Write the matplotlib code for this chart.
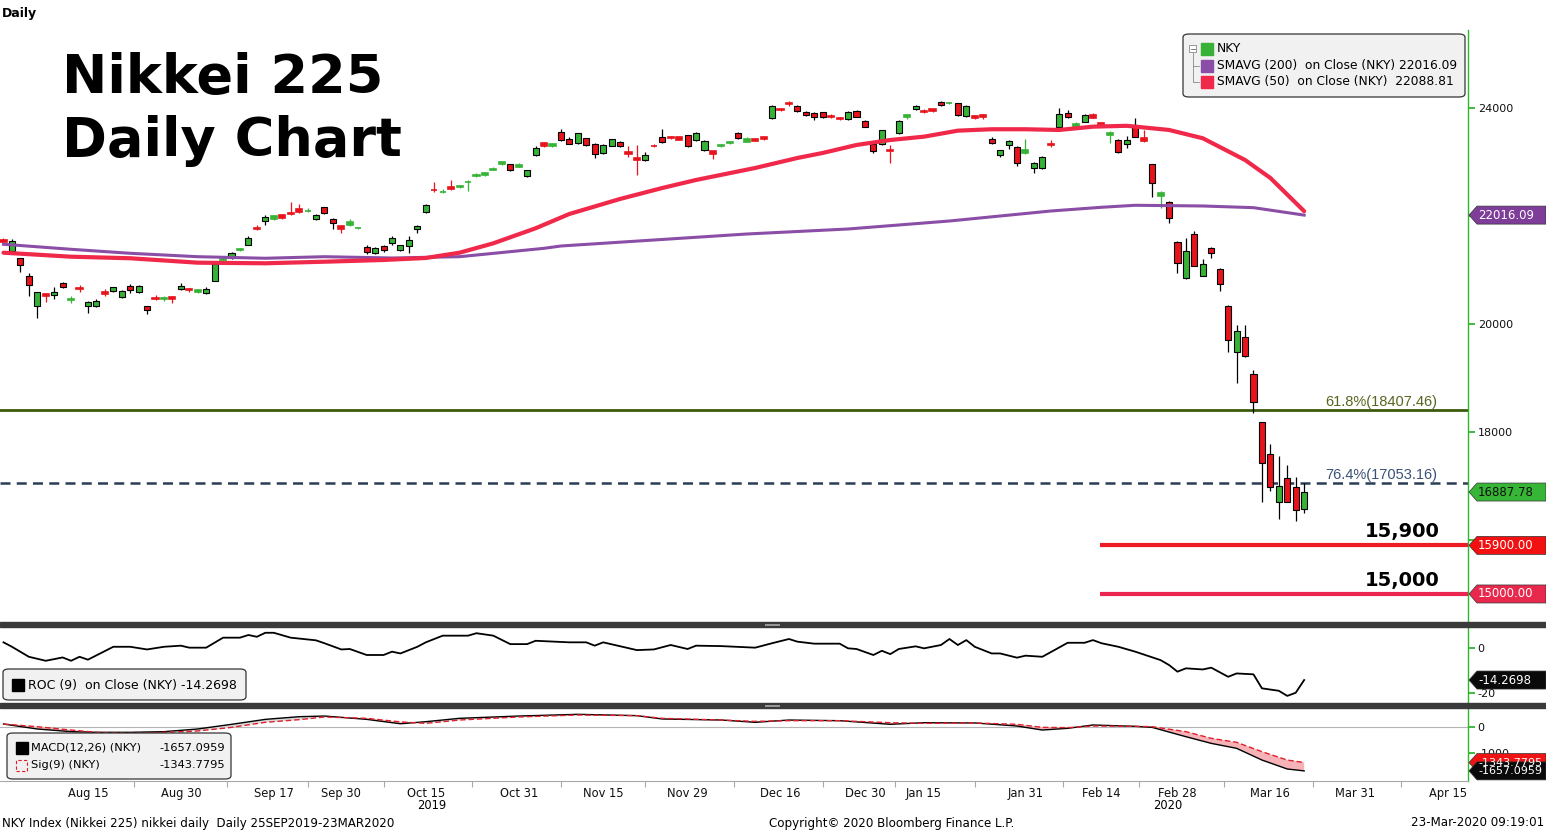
import numpy as np
import pandas as pd
import matplotlib
matplotlib.use('Agg')
import matplotlib.pyplot as plt
import matplotlib.transforms as mtransforms
from matplotlib.patches import Polygon, Rectangle, FancyBboxPatch
from matplotlib.lines import Line2D

# ---- data ----
holidays = ['2019-08-12', '2019-09-16', '2019-09-23', '2019-10-14', '2019-10-22',
            '2019-11-04', '2019-12-31', '2020-01-01', '2020-01-02', '2020-01-03',
            '2020-01-13', '2020-02-11', '2020-02-24', '2020-03-20']

opens = [21560, 21360, 21215, 20890, 20330, 20550, 20530, 20750, 20440, 20670,
         20325, 20325, 20600, 20610, 20500, 20700, 20590, 20330, 20480, 20470,
         20500, 20640, 20640, 20590, 20570, 20800, 21180, 21220, 21365, 21470,
         21770, 21900, 21945, 22010, 22060, 22130, 22090, 21950, 22160, 21945,
         21810, 21830, 21770, 21420, 21310, 21450, 21495, 21365, 21452, 21760,
         22070, 22480, 22440, 22540, 22530, 22620, 22737, 22755, 22860, 22957,
         22957, 22915, 22741, 23126, 23359, 23291, 23550, 23420, 23346, 23440,
         23333, 23161, 23304, 23365, 23180, 23080, 23033, 23300, 23457, 23460,
         23457, 23494, 23402, 23229, 23198, 23290, 23346, 23543, 23378, 23427,
         23465, 23809, 23975, 24099, 24037, 23926, 23901, 23920, 23860, 23821,
         23790, 23951, 23766, 23333, 23328, 23230, 23531, 23829, 23981, 23950,
         23981, 24111, 24090, 24087, 23852, 23852, 23877, 23433, 23124, 23309,
         23284, 23161, 22883, 22883, 23340, 23644, 23901, 23648, 23747, 23870,
         23729, 23494, 23407, 23327, 23685, 23438, 22957, 22378, 22255, 21514,
         20846, 21661, 20894, 21400, 21013, 20341, 19476, 19754, 19068, 18180,
         17587, 16709, 17142, 16987, 16568]
highs = [21600, 21570, 21230, 20940, 20600, 20570, 20680, 20780, 20510, 20720,
         20420, 20465, 20645, 20690, 20630, 20740, 20715, 20340, 20530, 20520,
         20510, 20755, 20660, 20635, 20690, 21155, 21240, 21330, 21410, 21620,
         21840, 22020, 22020, 22030, 22255, 22220, 22150, 22040, 22170, 21960,
         21820, 21950, 21790, 21455, 21420, 21460, 21630, 21470, 21620, 21830,
         22220, 22630, 22500, 22667, 22580, 22660, 22790, 22820, 22900, 23010,
         22970, 22990, 22860, 23300, 23370, 23350, 23610, 23470, 23540, 23450,
         23350, 23330, 23430, 23390, 23296, 23310, 23180, 23330, 23606, 23490,
         23470, 23500, 23550, 23400, 23210, 23340, 23390, 23560, 23460, 23440,
         23470, 24050, 24000, 24120, 24050, 23940, 23920, 23930, 23880, 23830,
         23940, 23960, 23780, 23340, 23600, 23310, 23770, 23890, 24060, 23980,
         23990, 24130, 24110, 24090, 24050, 23870, 23890, 23460, 23230, 23400,
         23300, 23420, 23000, 23110, 23410, 23995, 23960, 23740, 23880, 23900,
         23740, 23570, 23420, 23480, 23810, 23590, 22960, 22460, 22270, 21530,
         21587, 21720, 21200, 21420, 21040, 20350, 19976, 19976, 19150, 18180,
         17780, 17555, 17390, 17160, 17050]
lows = [21480, 21340, 20960, 20520, 20110, 20410, 20470, 20660, 20385, 20600,
        20200, 20310, 20510, 20600, 20490, 20580, 20580, 20180, 20440, 20425,
        20385, 20620, 20600, 20580, 20560, 20790, 21150, 21200, 21350, 21460,
        21740, 21840, 21930, 21940, 22020, 22060, 22070, 21920, 22030, 21755,
        21685, 21810, 21760, 21290, 21290, 21330, 21470, 21350, 21320, 21690,
        22060, 22450, 22420, 22480, 22520, 22470, 22730, 22745, 22850, 22950,
        22830, 22900, 22730, 23110, 23280, 23280, 23390, 23330, 23330, 23290,
        23080, 23140, 23290, 23270, 23098, 22750, 23020, 23270, 23360, 23420,
        23400, 23280, 23390, 23210, 23060, 23280, 23340, 23420, 23370, 23390,
        23410, 23800, 23940, 24040, 23920, 23850, 23770, 23810, 23820, 23780,
        23780, 23830, 23640, 23170, 23310, 22975, 23520, 23800, 23970, 23910,
        23930, 24040, 24080, 23860, 23840, 23790, 23800, 23330, 23100, 23235,
        22925, 23150, 22790, 22870, 23270, 23630, 23810, 23630, 23740, 23810,
        23680, 23360, 23170, 23250, 23460, 23370, 22360, 22140, 21865, 20940,
        20840, 21070, 20880, 21230, 20617, 19490, 18900, 19380, 18345, 16700,
        16910, 16380, 16700, 16358, 16496]
closes = [21521, 21540, 21087, 20720, 20585, 20516, 20593, 20684, 20455, 20655,
          20405, 20418, 20563, 20677, 20618, 20628, 20710, 20261, 20456, 20479,
          20460, 20704, 20620, 20625, 20649, 21110, 21199, 21318, 21392, 21600,
          21759, 21990, 22001, 21960, 22044, 22079, 22098, 22020, 22048, 21878,
          21756, 21885, 21778, 21341, 21410, 21375, 21588, 21456, 21551, 21820,
          22210, 22472, 22451, 22492, 22548, 22637, 22766, 22800, 22867, 22994,
          22846, 22939, 22852, 23254, 23303, 23340, 23402, 23335, 23531, 23319,
          23148, 23315, 23420, 23291, 23148, 23040, 23126, 23292, 23376, 23437,
          23414, 23290, 23531, 23389, 23144, 23309, 23376, 23438, 23433, 23396,
          23433, 24037, 23963, 24066, 23938, 23865, 23829, 23829, 23840, 23790,
          23932, 23840, 23655, 23209, 23587, 23210, 23759, 23877, 24043, 23930,
          23938, 24050, 24100, 23870, 24043, 23809, 23833, 23346, 23222, 23389,
          22983, 23216, 22983, 23084, 23320, 23883, 23829, 23698, 23864, 23821,
          23692, 23531, 23191, 23401, 23470, 23383, 22606, 22420, 21959, 21135,
          21353, 21080, 21105, 21320, 20748, 19698, 19870, 19413, 18550, 17420,
          16990, 17000, 16709, 16550, 16888]

sma50_idx = [0, 8, 15, 23, 31, 38, 45, 50, 54, 58, 63, 67, 73, 78, 82, 89, 94, 97,
             101, 105, 109, 113, 117, 121, 125, 129, 133, 138, 142, 147, 150, 154]
sma50_val = [21320, 21246, 21217, 21135, 21124, 21153, 21185, 21222, 21320, 21494,
             21772, 22037, 22315, 22518, 22667, 22889, 23074, 23167, 23315, 23407,
             23469, 23580, 23606, 23606, 23593, 23654, 23670, 23593, 23439, 23037,
             22704, 22089]
sma200_idx = [0, 8, 15, 23, 31, 38, 46, 54, 64, 66, 77, 88, 100, 112, 124, 130,
              134, 142, 148, 154]
sma200_val = [21476, 21383, 21309, 21246, 21217, 21246, 21222, 21246, 21401, 21444,
              21555, 21666, 21759, 21907, 22092, 22161, 22198, 22185, 22154, 22016]

roc_idx = [0, 1, 3, 5, 7, 8, 9, 10, 13, 15, 17, 19, 21, 22, 24, 26, 28, 29, 30, 31,
           32, 34, 37, 38, 40, 41, 43, 45, 46, 47, 49, 50, 52, 55, 56, 58, 60, 62,
           63, 67, 69, 70, 71, 75, 77, 79, 81, 82, 85, 89, 91, 93, 94, 96, 99, 100,
           101, 103, 104, 105, 106, 108, 109, 111, 112, 113, 114, 115, 117, 118,
           120, 121, 123, 126, 128, 129, 130, 132, 134, 137, 138, 139, 140, 142,
           143, 145, 146, 148, 149, 151, 152, 153, 154]
roc_val = [2.7, 0.7, -3.8, -5.6, -4.1, -5.6, -3.8, -5.1, 0.7, 0.7, -0.5, 0.7, 1.2,
           0.3, 0.3, 4.8, 4.8, 6.0, 5.2, 7.0, 7.0, 4.8, 3.6, 2.3, -0.5, -0.3, -3.0,
           -3.0, -1.5, -2.3, 0.7, 2.7, 5.7, 5.7, 6.8, 5.7, 1.9, 1.9, 3.4, 2.7, 2.7,
           1.2, 2.7, -0.8, -0.5, 1.5, -0.3, 1.2, 1.0, 0.3, 2.3, 4.2, 3.0, 2.1, 2.1,
           0.0, -0.3, -3.0, -1.1, -2.6, -0.3, 0.9, 0.0, 1.5, 4.2, 1.5, 3.7, 0.7,
           -2.3, -2.3, -4.2, -3.3, -3.8, 2.5, 2.5, 3.7, 2.3, 0.7, -1.5, -5.3, -7.5,
           -10.5, -9.0, -9.5, -8.7, -12.8, -11.3, -11.7, -18.0, -19.1, -21.4, -20.0,
           -14.2698]

macd_idx = [0, 4, 8, 11, 15, 19, 23, 27, 31, 35, 38, 43, 47, 50, 54, 61, 68, 75, 78,
            85, 89, 93, 99, 105, 109, 115, 120, 123, 126, 129, 134, 136, 140, 143,
            146, 149, 152, 154]
macd_val = [100, -86, -186, -211, -211, -186, -86, 89, 275, 375, 400, 275, 110, 188,
            314, 400, 464, 414, 289, 250, 164, 250, 225, 89, 150, 140, 25, -125, -61,
            64, 14, -25, -375, -625, -811, -1250, -1586, -1657.0959]
sig_val = [100, 0, -125, -211, -250, -211, -161, -25, 164, 264, 364, 314, 180, 125,
           250, 364, 439, 414, 314, 250, 200, 225, 225, 150, 125, 140, 89, -25, -36,
           25, 14, 0, -186, -436, -586, -936, -1250, -1343.7795]

label_dates = ['2019-08-15', '2019-08-30', '2019-09-17', '2019-09-30', '2019-10-15',
               '2019-10-31', '2019-11-15', '2019-11-29', '2019-12-16', '2019-12-30',
               '2020-01-15', '2020-01-31', '2020-02-14', '2020-02-28', '2020-03-16',
               '2020-03-31', '2020-04-15']

fib618 = 18407.46
fib764 = 17053.16
supports = [15900, 15000]

# trading day axis
dates = pd.bdate_range('2019-07-31', '2020-04-24')
dates = dates[~dates.isin(pd.to_datetime(holidays))]
x = np.arange(len(opens))

W, H = 1546, 832
def fx(px):
    return px / W
def fy(py):
    return 1 - py / H

GREEN = '#36b336'
RED = '#e8141c'
AXGREEN = '#2fb52f'

fig = plt.figure(figsize=(W / 100, H / 100), dpi=100)
ax = fig.add_axes([0, fy(622), fx(1468), (622 - 30) / H])
ax_roc = fig.add_axes([0, fy(703), fx(1468), (703 - 627) / H], sharex=ax)
ax_macd = fig.add_axes([0, fy(781), fx(1468), (781 - 708) / H], sharex=ax)

# ---- candles ----
o = np.array(opens, float)
c = np.array(closes, float)
hi = np.array(highs, float)
lo = np.array(lows, float)
body = np.abs(c - o)
bottom = np.minimum(o, c)
col = np.where(c >= o, GREEN, RED)
small = body < 60
big = ~small
ax.vlines(x[big], lo[big], hi[big], color='black', lw=0.9, zorder=2)
ax.vlines(x[small], lo[small], hi[small], color=col[small], lw=0.9, zorder=2)
ax.bar(x[big], body[big], bottom=bottom[big], width=0.72, color=col[big],
       edgecolor='black', linewidth=0.8, zorder=3)
ax.bar(x[small], body[small], bottom=bottom[small], width=0.72, color=col[small],
       edgecolor=col[small], linewidth=1.2, zorder=3)

ax.plot(sma200_idx, sma200_val, color='#8a4ea6', lw=2.2, zorder=4)
ax.plot(sma50_idx, sma50_val, color='#f0284a', lw=3.0, zorder=4,
        solid_capstyle='round')

ax.set_xlim(-0.414, 173.4)
ax.set_ylim(14481, 25444)

# fib levels
ax.axhline(fib618, color='#3d5a0c', lw=2.0, zorder=1)
ax.axhline(fib764, color='#2a3d57', lw=1.8, ls=(0, (4, 2.5)), zorder=1)
off = mtransforms.offset_copy(ax.transData, fig=fig, y=1, units='points')
ax.text(169.7, fib618, '61.8%(18407.46)', ha='right', va='bottom', color='#55661f',
        fontsize=10.5, family='Liberation Sans', transform=off)
ax.text(169.7, fib764, '76.4%(17053.16)', ha='right', va='bottom', color='#3b5275',
        fontsize=10.5, family='Liberation Sans', transform=off)

# support lines
ax.hlines(supports[0], 129.8, 173.4, color='#ee1c25', lw=3.0, zorder=2)
ax.hlines(supports[1], 129.8, 173.4, color='#ec2550', lw=3.0, zorder=2)
off2 = mtransforms.offset_copy(ax.transData, fig=fig, y=3, units='points')
ax.text(170.0, supports[0], '15,900', ha='right', va='bottom', fontsize=14,
        fontweight='bold', color='black', transform=off2)
ax.text(170.0, supports[1], '15,000', ha='right', va='bottom', fontsize=14,
        fontweight='bold', color='black', transform=off2)

# ---- ROC ----
ax_roc.plot(roc_idx, roc_val, color='black', lw=1.3)
ax_roc.set_ylim(-24.6, 9.6)

# ---- MACD ----
mi = np.array(macd_idx)
mv = np.array(macd_val)
sv = np.array(sig_val)
ax_macd.axhline(0, color='#b5b5b5', lw=0.8, zorder=1)
ax_macd.fill_between(mi, mv, sv, where=mv < sv, interpolate=True, color='#f6b2b7',
                     lw=0, zorder=2)
ax_macd.fill_between(mi, mv, sv, where=mv >= sv, interpolate=True, color='#d8d8d8',
                     lw=0, zorder=2)
ax_macd.plot(mi, mv, color='black', lw=1.0, zorder=3)
ax_macd.plot(mi, sv, color='#e0202a', lw=1.0, ls=(0, (4, 2)), zorder=3)
ax_macd.set_ylim(-2036, 701)

# ---- axes styling ----
for a in (ax, ax_roc, ax_macd):
    for s in ('top', 'left', 'bottom'):
        a.spines[s].set_visible(False)
    a.spines['right'].set_color(AXGREEN)
    a.spines['right'].set_linewidth(1.0)
    a.yaxis.tick_right()
    a.tick_params(axis='y', direction='out', length=5, width=1.3, colors=AXGREEN,
                  labelcolor='#111111', labelsize=8, pad=2)
    a.tick_params(axis='x', which='both', bottom=False, labelbottom=False)
    a.set_facecolor('none')

# 16000 / 22000 labels sit under the value tags, so only their ticks show
ax.set_yticks([16000, 18000, 20000, 22000, 24000])
ax.set_yticklabels(['', '18000', '20000', '', '24000'])
ax_roc.set_yticks([0, -20])
ax_roc.set_yticklabels(['0', '-20'])
ax_macd.set_yticks([0, -1000])
ax_macd.set_yticklabels(['0', '-1000'])

ax_macd.spines['bottom'].set_visible(True)
ax_macd.spines['bottom'].set_color('#a8a8a8')
ax_macd.spines['bottom'].set_linewidth(0.8)
lab_pos = [dates.get_loc(pd.Timestamp(d)) for d in label_dates]
lab_txt = [f"{pd.Timestamp(d):%b} {pd.Timestamp(d).day}" for d in label_dates]
ax_macd.set_xticks(lab_pos)
ax_macd.set_xticklabels(lab_txt)
mid = [(lab_pos[k] + lab_pos[k + 1]) / 2 for k in range(len(lab_pos) - 1)]
ax_macd.set_xticks(mid, minor=True)
ax_macd.tick_params(axis='x', which='major', bottom=True, length=0,
                    labelbottom=True, labelsize=8.3, pad=4, labelcolor='#111111')
ax_macd.tick_params(axis='x', which='minor', bottom=True, length=4,
                    color='#a8a8a8', width=0.8)
ax_macd.text(50.7, -0.33, '2019', transform=mtransforms.blended_transform_factory(
    ax_macd.transData, ax_macd.transAxes), ha='center', va='center', fontsize=8.3)
ax_macd.text(137.8, -0.33, '2020', transform=mtransforms.blended_transform_factory(
    ax_macd.transData, ax_macd.transAxes), ha='center', va='center', fontsize=8.3)

# panel separators
for top, bot in ((622, 627), (703, 708)):
    fig.add_artist(Rectangle((0, fy(bot)), 1, (bot - top) / H,
                             transform=fig.transFigure, color='#3a3a3a', zorder=5))
    fig.add_artist(Line2D([fx(765), fx(779)], [fy(top + 1.8), fy(top + 1.8)],
                          transform=fig.transFigure, color='#9a9a9a', lw=0.7, zorder=6))
    fig.add_artist(Line2D([fx(765), fx(779)], [fy(top + 3.2), fy(top + 3.2)],
                          transform=fig.transFigure, color='#9a9a9a', lw=0.7, zorder=6))

# ---- value tags on the right ----
ident = mtransforms.IdentityTransform()
def tag(axis, value, label, fc, tc, size=8.5):
    yp = axis.transData.transform((0, value))[1]
    pts = [(1469, yp), (1477, yp + 9), (W, yp + 9), (W, yp - 9), (1477, yp - 9)]
    fig.add_artist(Polygon(pts, closed=True, transform=ident, facecolor=fc,
                           edgecolor='#333333', lw=0.5, zorder=20))
    fig.text(fx(1478), yp / H, label, va='center', ha='left', fontsize=size,
             color=tc, zorder=21)

tag(ax, 22016.09, '22016.09', '#7e3d99', 'white')
tag(ax, 16887.78, '16887.78', '#37b537', '#111111')
tag(ax, 15900, '15900.00', '#f21010', 'white')
tag(ax, 15000, '15000.00', '#e8284c', 'white')
tag(ax_roc, -14.2698, '-14.2698', '#0a0a0a', 'white')
tag(ax_macd, -1343.7795, '-1343.7795', '#f01414', 'white', 8)
tag(ax_macd, -1657.0959, '-1657.0959', '#0a0a0a', 'white', 8)

# ---- title & texts ----
fig.text(fx(2), fy(14), 'Daily', fontsize=9, fontweight='bold', va='center')
fig.text(fx(62), fy(93), 'Nikkei 225', fontsize=39, fontweight='bold',
         va='baseline', ha='left')
fig.text(fx(62), fy(156), 'Daily Chart', fontsize=39, fontweight='bold',
         va='baseline', ha='left')

# main legend
fig.add_artist(FancyBboxPatch((fx(1183), fy(97)), fx(282), 63 / H,
                              boxstyle='round,pad=0,rounding_size=0.004',
                              transform=fig.transFigure, facecolor='#f1f1f1',
                              edgecolor='#333333', lw=0.9, zorder=8))
leg_rows = [('NKY', GREEN, 49), ('SMAVG (200)  on Close (NKY) 22016.09', '#8a4ea6', 66),
            ('SMAVG (50)  on Close (NKY)  22088.81', '#f0284a', 82)]
for txt, cc, yy in leg_rows:
    fig.add_artist(Rectangle((fx(1201), fy(yy + 6)), fx(12), 12 / H,
                             transform=fig.transFigure, color=cc, zorder=9))
    fig.text(fx(1217), fy(yy), txt, fontsize=8.8, va='center', ha='left', zorder=9)
fig.add_artist(Rectangle((fx(1189), fy(52)), fx(7), 7 / H, transform=fig.transFigure,
                         facecolor='white', edgecolor='#888888', lw=0.6, zorder=9))
fig.add_artist(Line2D([fx(1190.5), fx(1194.5)], [fy(48.5), fy(48.5)],
                      transform=fig.transFigure, color='#666666', lw=0.6, zorder=10))
fig.add_artist(Line2D([fx(1192.5), fx(1192.5), fx(1199)], [fy(53), fy(82), fy(82)],
                      transform=fig.transFigure, color='#888888', lw=0.6, zorder=9))
fig.add_artist(Line2D([fx(1192.5), fx(1199)], [fy(66), fy(66)],
                      transform=fig.transFigure, color='#888888', lw=0.6, zorder=9))

# ROC legend
fig.add_artist(FancyBboxPatch((fx(3), fy(700)), fx(243), 31 / H,
                              boxstyle='round,pad=0,rounding_size=0.004',
                              transform=fig.transFigure, facecolor='#f1f1f1',
                              edgecolor='#333333', lw=0.9, zorder=8))
fig.add_artist(Rectangle((fx(12), fy(691)), fx(12), 12 / H, transform=fig.transFigure,
                         color='black', zorder=9))
fig.text(fx(28), fy(685), 'ROC (9)  on Close (NKY) -14.2698', fontsize=9,
         va='center', ha='left', zorder=9)

# MACD legend
fig.add_artist(FancyBboxPatch((fx(7), fy(779)), fx(224), 46 / H,
                              boxstyle='round,pad=0,rounding_size=0.004',
                              transform=fig.transFigure, facecolor='#f1f1f1',
                              edgecolor='#333333', lw=0.9, zorder=8))
fig.add_artist(Rectangle((fx(16), fy(754)), fx(12), 12 / H, transform=fig.transFigure,
                         color='black', zorder=9))
fig.add_artist(Rectangle((fx(16), fy(771)), fx(11), 11 / H, transform=fig.transFigure,
                         facecolor='none', edgecolor='#e0202a', lw=0.8, ls=(0, (3, 2)),
                         zorder=9))
fig.text(fx(31), fy(748), 'MACD(12,26) (NKY)', fontsize=8.2, va='center', ha='left', zorder=9)
fig.text(fx(225), fy(748), '-1657.0959', fontsize=8.2, va='center', ha='right', zorder=9)
fig.text(fx(31), fy(765), 'Sig(9) (NKY)', fontsize=8.2, va='center', ha='left', zorder=9)
fig.text(fx(225), fy(765), '-1343.7795', fontsize=8.2, va='center', ha='right', zorder=9)

# footer
fig.text(fx(2), fy(823), 'NKY Index (Nikkei 225) nikkei daily  Daily 25SEP2019-23MAR2020',
         fontsize=8.6, va='center', ha='left')
fig.text(fx(892), fy(823), 'Copyright\u00a9 2020 Bloomberg Finance L.P.', fontsize=8.6,
         va='center', ha='center')
fig.text(fx(1544), fy(823), '23-Mar-2020 09:19:01', fontsize=8.6, va='center', ha='right')

fig.savefig('out.png', dpi=100, facecolor='white')
